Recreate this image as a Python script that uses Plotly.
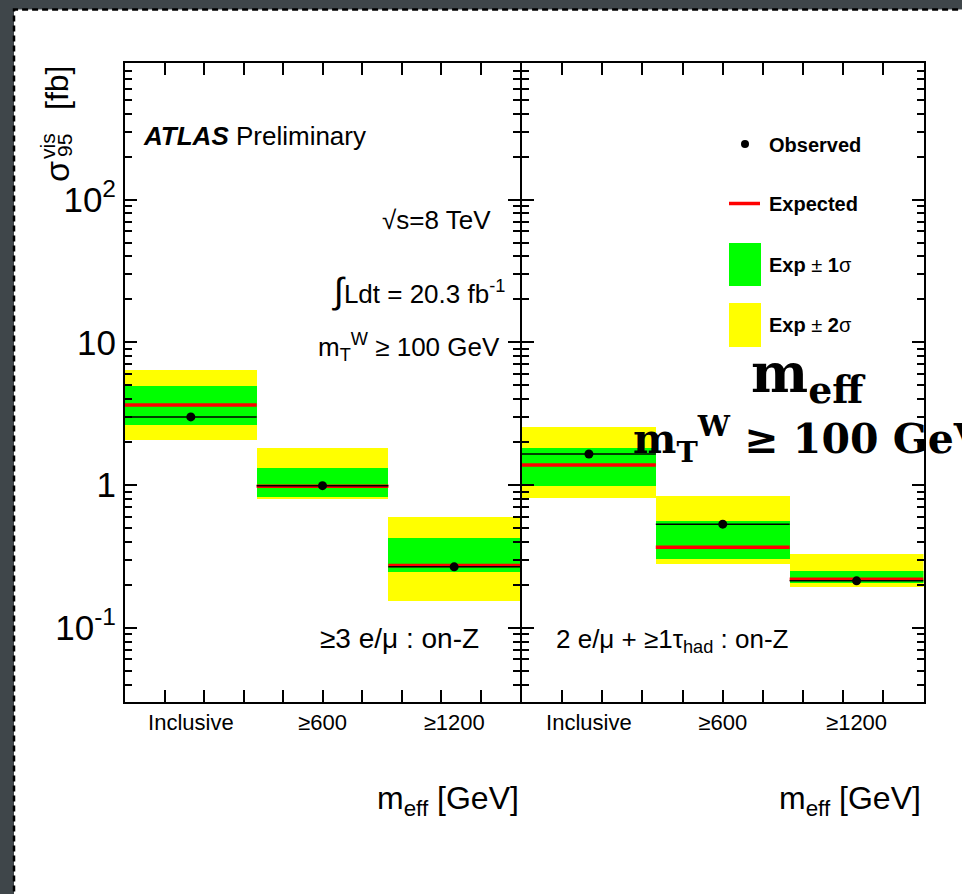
import plotly.graph_objects as go

# ---------------------------------------------------------------- data
categories = ["Inclusive", "≥600", "≥1200"]

# >=3 e/mu : on-Z
obs_3l = [3.00, 0.99, 0.267]
exp_3l = [3.64, 0.98, 0.273]
exp_3l_m1 = [2.67, 0.83, 0.248]
exp_3l_p1 = [4.95, 1.32, 0.432]
exp_3l_m2 = [2.07, 0.80, 0.154]
exp_3l_p2 = [6.49, 1.82, 0.606]

# 2 e/mu + >=1 tau_had : on-Z
obs_2lt = [1.65, 0.532, 0.213]
exp_2lt = [1.38, 0.367, 0.219]
exp_2lt_m1 = [1.00, 0.307, 0.208]
exp_2lt_p1 = [1.82, 0.560, 0.253]
exp_2lt_m2 = [0.815, 0.280, 0.195]
exp_2lt_p2 = [2.57, 0.850, 0.333]

y_tick_vals = [0.1, 1, 10, 100]
y_tick_text = ["10<sup>-1</sup>", "1", "10", "10<sup>2</sup>"]

# ---------------------------------------------------------------- layout helpers
W, H = 962, 894
FONT = "Liberation Sans"
GREEN, YELLOW, RED = "#00ff00", "#ffff00", "#ff0000"


def px(x):
    return x / W


def py(y):
    return 1 - y / H


centers = [i + 0.5 for i in range(len(categories))]

fig = go.Figure()


def add_panel(xa, ya, obs, exp, m1, p1, m2, p2):
    fig.add_trace(go.Bar(x=centers, y=[h - l for l, h in zip(m2, p2)], base=m2,
                         width=1, marker=dict(color=YELLOW, line=dict(width=0)),
                         xaxis=xa, yaxis=ya, showlegend=False, hoverinfo="skip"))
    fig.add_trace(go.Bar(x=centers, y=[h - l for l, h in zip(m1, p1)], base=m1,
                         width=1, marker=dict(color=GREEN, line=dict(width=0)),
                         xaxis=xa, yaxis=ya, showlegend=False, hoverinfo="skip"))
    lx, ly = [], []
    for c, e in zip(centers, exp):
        lx += [c - 0.5, c + 0.5, None]
        ly += [e, e, None]
    fig.add_trace(go.Scatter(x=lx, y=ly, mode="lines",
                             line=dict(color=RED, width=3.5),
                             xaxis=xa, yaxis=ya, showlegend=False))
    fig.add_trace(go.Scatter(x=centers, y=obs, mode="markers",
                             marker=dict(color="black", size=9),
                             error_x=dict(type="data", array=[0.5] * len(obs),
                                          width=0, thickness=1.5, color="black"),
                             xaxis=xa, yaxis=ya, showlegend=False))


add_panel("x", "y", obs_3l, exp_3l, exp_3l_m1, exp_3l_p1, exp_3l_m2, exp_3l_p2)
add_panel("x2", "y2", obs_2lt, exp_2lt, exp_2lt_m1, exp_2lt_p1, exp_2lt_m2, exp_2lt_p2)

x_minor = [round(0.3 * k, 2) for k in range(1, 10)]
y_minor = [k * 10 ** d for d in range(-2, 3) for k in range(2, 10)]

xaxis_common = dict(
    range=[0, 3], tickmode="array", tickvals=centers, ticktext=categories,
    ticks="", showline=True, linewidth=2, linecolor="black", mirror="ticks",
    showgrid=False, zeroline=False, fixedrange=True,
    tickfont=dict(family=FONT, size=22, color="black"),
    minor=dict(tickmode="array", tickvals=x_minor, ticks="inside", ticklen=12,
               tickwidth=1.5, tickcolor="black", showgrid=False),
)
yaxis_common = dict(
    type="log", range=[-1.517, 2.961], tickmode="array",
    tickvals=y_tick_vals, ticktext=y_tick_text,
    ticks="inside", ticklen=12, tickwidth=1.5, tickcolor="black",
    showline=True, linewidth=2, linecolor="black", mirror="ticks",
    showgrid=False, zeroline=False,
    tickfont=dict(family=FONT, size=35, color="black"),
    minor=dict(tickmode="array", tickvals=y_minor, ticks="inside", ticklen=7,
               tickwidth=1.5, tickcolor="black", showgrid=False),
)

# the two panels share one frame line at the boundary
y_dom = [py(701.5), py(62.5)]
fig.update_layout(
    width=W, height=H, margin=dict(l=0, r=0, t=0, b=0),
    paper_bgcolor="#3f464a", plot_bgcolor="white",
    barmode="overlay", bargap=0, showlegend=False,
    xaxis=dict(domain=[px(125), px(520)], anchor="y", **xaxis_common),
    xaxis2=dict(domain=[px(522), px(923.5)], anchor="y2", **xaxis_common),
    yaxis=dict(domain=y_dom, anchor="x", **yaxis_common),
    yaxis2=dict(domain=y_dom, anchor="x2", matches="y", showticklabels=False,
                **{k: v for k, v in yaxis_common.items() if k not in ("tickfont",)}),
)

# page background with dashed frame
fig.add_shape(type="rect", xref="paper", yref="paper",
              x0=px(14), x1=1.2, y0=-0.2, y1=py(9.5),
              fillcolor="white", line=dict(color="black", width=2.5, dash="6px,4px"),
              layer="below")

ann = []


def text(x, y, s, size, xanchor="left", yanchor="middle", family=FONT, angle=0):
    ann.append(dict(x=px(x), y=py(y), xref="paper", yref="paper", text=s,
                    showarrow=False, xanchor=xanchor, yanchor=yanchor,
                    textangle=angle, font=dict(family=family, size=size, color="black")))


# y-axis title
text(57, 172, "σ", 34, "center", "middle", angle=-90)
text(47, 146, "vis", 21, "center", "middle", angle=-90)
text(64, 146, "95", 21, "center", "middle", angle=-90)
text(57, 88, "[fb]", 32, "center", "middle", angle=-90)

# x-axis titles
text(521, 800, "m<sub>eff</sub> [GeV]", 32, "right")
text(923, 800, "m<sub>eff</sub> [GeV]", 32, "right")

# labels inside the left panel
text(141, 136, "<b><i>ATLAS</i></b> Preliminary", 26)
text(493, 220, "√s=8 TeV", 26, "right")
text(507, 290, "<span style='font-size:36px'>∫</span>Ldt = 20.3 fb<sup>-1</sup>", 26, "right")
text(502, 347, "m<sub>T</sub><sup>W</sup> ≥ 100 GeV", 26, "right")
text(481, 638, "≥3 e/μ : on-Z", 28, "right")
text(791, 640, "2 e/μ + ≥1τ<sub>had</sub> : on-Z", 26, "right")

# legend
text(767, 145, "<b>Observed</b>", 20)
text(767, 204, "<b>Expected</b>", 20)
text(767, 265, "<b>Exp</b> ± <b>1</b>σ", 20)
text(767, 325, "<b>Exp</b> ± <b>2</b>σ", 20)
fig.add_shape(type="circle", xref="paper", yref="paper",
              x0=px(741), x1=px(749), y0=py(148), y1=py(140),
              fillcolor="black", line=dict(width=0))
fig.add_shape(type="line", xref="paper", yref="paper",
              x0=px(729), x1=px(760), y0=py(203.5), y1=py(203.5),
              line=dict(color=RED, width=3.5))
fig.add_shape(type="rect", xref="paper", yref="paper",
              x0=px(729), x1=px(761), y0=py(286), y1=py(243),
              fillcolor=GREEN, line=dict(width=0))
fig.add_shape(type="rect", xref="paper", yref="paper",
              x0=px(729), x1=px(761), y0=py(347), y1=py(303),
              fillcolor=YELLOW, line=dict(width=0))

# overlaid heavy caption
text(749, 376, "<b>m<sub>eff</sub></b>", 54, family="DejaVu Serif")
text(631, 439, "<b>m<sub>T</sub><sup>W</sup> ≥ 100 GeV</b>", 41, family="DejaVu Serif")

fig.update_layout(annotations=ann)
fig.write_html("out.html")
